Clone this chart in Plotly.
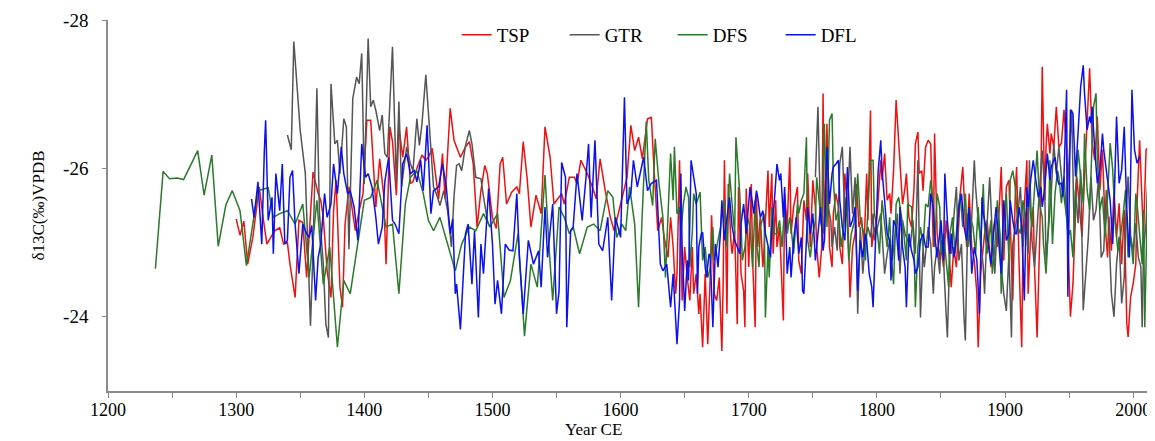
import plotly.graph_objects as go

# ---------------- data ----------------
tsp_years = [1300,1303,1306,1309,1313,1318,1321,1324,1330,1334,
    1337,1340,1342,1346,1349,1352,1355,1357,1360,1364,1366,1368,1371,1374,1376,1378,1381,1383,1385,1388,1390,1393,1396,1399,1402,1405,1409,1412,1415,1417,1420,1422,1425,1427,1430,1433,1436,
    1438,1441,1445,1448,1450,1453,1456,1458,1461,1463,1467,1470,1475,1479,1482,1485,1488,1491,1494,1496,1500,1503,1506,1508,1511,1515,1519,1521,1524,1527,1530,1534,1538,
    1541,1545,1548,1551,1554,1556,1560,1564,1566,1569,1574,1578,1581,1584,1588,1592,1595,1600,1605,1608,1611,1614,1617,1621,1624,1626,1629,1632,1634,1637,1639,
    1641,1643,1644,1646,1648,1650,1652,1654,1656,1657,1659,1661,1662,1664,1666,1668,1670,1671,1673,1675,1677,1679,1680,1681,1683,1684,1686,1687,1689,1691,1692,1694,1696,1697,1698,1700,1702,1703,1705,1706,1707,1709,1711,1712,1715,1716,1718,1719,1721,1722,1724,1727,1728,1730,1732,1733,1735,1738,1739,
    1741,1743,1745,1746,1748,1750,1752,1753,1755,1757,1758,1759,1761,1763,1765,1766,1768,1770,1771,1773,1775,1777,1779,1781,1783,1784,1786,1788,1790,1792,1793,1795,1796,1798,1799,1801,1803,1804,1806,1808,1810,1811,1813,1815,1817,1818,1820,1822,1823,1825,1827,1829,1830,1832,1833,1835,1836,1838,1840,
    1842,1844,1845,1847,1849,1850,1852,1854,1856,1858,1860,1862,1864,1865,1867,1869,1870,1872,1874,1876,1878,1879,1881,1883,1884,1886,1889,1890,1892,1894,1896,1897,1899,1901,1903,1904,1906,1908,1909,1911,1913,1914,1915,1917,1918,1920,1922,1923,1925,1927,1928,1929,1931,1932,1933,1935,1936,1938,1940,1942,
    1944,1946,1948,1949,1951,1953,1955,1956,1958,1960,1962,1964,1966,1968,1970,1972,1974,1976,1978,1980,1981,1983,1985,1987,1989,1991,1993,1995,1996,1998,2000,2002,2003,2005,2007,2008,2010,2012,2014]
tsp_values = [-25.32,-25.10,-25.29,-24.71,-25.07,-25.75,-25.34,-24.98,-25.16,-25.20,
    -24.98,-25.00,-24.71,-24.26,-25.30,-25.27,-24.53,-25.16,-25.95,-25.66,-25.57,-25.34,-24.62,-24.26,-25.43,-25.84,-24.40,-24.13,-25.25,-25.75,-25.52,-25.16,-25.43,-25.66,-26.65,-26.65,-25.48,-26.13,-25.66,-24.71,-26.56,-26.36,-25.64,-26.56,-26.15,-26.56,-25.80,
    -25.82,-26.00,-26.18,-26.11,-26.15,-26.27,-25.88,-25.59,-26.20,-25.59,-26.81,-26.38,-26.15,-26.29,-26.36,-26.06,-25.21,-25.70,-26.04,-25.93,-25.34,-25.19,-26.06,-26.15,-25.52,-25.68,-25.75,-25.66,-26.36,-25.88,-25.21,-25.64,-25.39,
    -26.56,-26.15,-25.52,-25.59,-25.66,-25.52,-25.88,-25.88,-25.79,-26.11,-25.93,-25.75,-25.59,-26.13,-25.70,-25.34,-25.16,-25.52,-25.88,-26.58,-26.24,-26.42,-26.13,-26.67,-26.69,-26.02,-25.16,-25.34,-25.07,-24.80,-25.34,
    -24.94,-24.31,-24.58,-26.11,-24.22,-24.94,-24.53,-24.22,-24.94,-24.31,-24.58,-24.04,-24.31,-23.59,-24.58,-23.63,-24.58,-25.37,-24.31,-24.22,-24.53,-23.54,-24.44,-26.11,-24.04,-25.79,-25.03,-24.85,-25.16,-23.90,-25.75,-24.58,-24.35,-23.86,-25.73,-24.67,-25.79,-24.76,-23.86,-25.66,-24.94,-25.34,-24.67,-24.94,-25.97,-25.21,-25.93,-24.85,-25.57,-24.94,-25.21,-23.95,-25.66,-25.21,-26.15,-25.12,-25.48,-25.75,-24.76,
    -24.58,-25.57,-25.30,-25.93,-24.94,-25.84,-25.48,-24.94,-24.53,-24.94,-27.01,-25.03,-26.60,-24.94,-24.67,-25.39,-25.66,-25.48,-24.94,-24.71,-25.93,-25.52,-24.26,-24.94,-25.12,-25.79,-25.21,-25.34,-24.94,-25.93,-25.30,-26.78,-24.94,-25.21,-25.12,-25.57,-26.11,-25.84,-26.20,-25.57,-25.66,-25.39,-25.97,-26.92,-26.33,-26.11,-25.52,-25.75,-25.93,-25.34,-25.21,-25.75,-26.33,-26.49,-25.93,-25.97,-25.70,-26.29,-26.38,
    -26.33,-24.94,-26.47,-25.12,-24.76,-24.94,-24.67,-25.30,-24.94,-24.40,-24.94,-24.67,-25.30,-25.66,-26.02,-25.30,-24.94,-25.66,-24.94,-24.76,-24.31,-23.59,-24.58,-24.94,-25.12,-25.30,-24.67,-25.03,-25.30,-24.94,-25.66,-26.02,-24.76,-25.75,-25.84,-25.21,-24.22,-25.66,-26.02,-24.67,-23.59,-25.03,-25.48,-26.11,-24.31,-25.12,-25.48,-24.67,-23.72,-25.03,-25.84,-27.37,-25.57,-26.29,-26.60,-26.20,-26.47,-26.29,-26.83,-26.29,
    -26.34,-26.79,-26.25,-25.08,-24.00,-24.45,-25.35,-25.89,-25.48,-25.08,-25.89,-26.61,-27.35,-26.34,-26.11,-26.70,-25.71,-26.25,-25.26,-24.80,-25.35,-24.89,-25.71,-25.08,-25.53,-24.71,-25.44,-23.91,-23.73,-24.27,-24.45,-24.71,-25.53,-26.38,-25.44,-25.08,-26.25,-26.29,-26.11]

gtr_years = [1340,1343,1345,1347,1350,1354,1357,1358,1360,1363,1365,1368,1370,1372,1374,1377,1379,1381,1384,1386,1388,1391,1394,1396,1398,1400,1403,1405,1407,1409,1412,1414,1416,1418,1422,1425,1427,1429,1433,1436,
    1438,1441,1443,1445,1448,1449,1452,1454,1457,1459,1462,1465,1468,1470,1472,1474,1476,1479,1482,1484,1487,1491,1493,1496,1498,
    None,
    1752,1754,1756,1758,1759,1761,1764,1765,1767,1769,1771,1773,1775,1777,1779,1781,1783,1785,1787,1789,1791,1793,1795,1797,1798,1800,1803,1804,1806,1808,1810,1812,1814,1816,1818,1820,1822,1824,1826,1828,1830,1832,1834,1836,1837,1840,
    1842,1844,1845,1847,1849,1850,1852,1854,1855,1857,1858,1860,1862,1864,1866,1868,1869,1871,1873,1876,1877,1879,1881,1883,1884,1886,1888,1890,1892,1893,1895,1897,1899,1901,1903,1905,1906,1908,1910,1912,1914,1916,1918,1919,1921,1923,1925,1927,1929,1931,1932,1934,1936,1938,1940,1942,
    1944,1946,1948,1949,1952,1954,1955,1957,1959,1961,1963,1965,1967,1969,1971,1973,1975,1977,1979,1981,1983,1985,1987,1989,1991,1993,1994,1996,1998,2000,2002,2004,2006,2007,2008,2010,2012,2014]
gtr_values = [-26.45,-26.25,-27.71,-27.19,-26.51,-25.93,-24.26,-23.88,-24.89,-27.08,-25.39,-24.71,-23.90,-23.72,-27.14,-26.33,-26.38,-25.93,-26.67,-26.56,-24.91,-26.94,-27.23,-27.14,-27.55,-25.79,-27.75,-26.83,-26.92,-26.78,-26.51,-26.72,-26.20,-26.15,-27.64,-25.80,-26.90,-25.75,-26.29,-26.06,
    -25.97,-26.67,-26.31,-26.60,-27.26,-26.99,-26.15,-25.75,-25.62,-25.50,-25.70,-25.43,-24.94,-25.62,-26.04,-26.06,-25.97,-26.31,-26.51,-26.33,-25.88,-25.86,-25.62,-25.30,-25.21,
    None,
    -25.88,-26.83,-25.30,-25.12,-25.34,-25.57,-25.30,-24.94,-25.21,-24.89,-26.06,-26.29,-25.30,-25.43,-26.29,-25.39,-25.88,-24.04,-25.21,-24.58,-25.03,-25.21,-25.07,-25.39,-25.03,-25.16,-25.39,-25.12,-24.58,-24.85,-25.03,-24.76,-25.12,-25.39,-24.58,-25.30,-25.12,-25.03,-24.94,-25.30,-24.85,-26.11,-23.99,-24.94,-24.67,-25.21,
    -24.98,-24.31,-24.67,-24.94,-24.58,-25.03,-24.76,-24.04,-23.72,-24.94,-24.85,-25.34,-25.75,-24.76,-24.98,-23.99,-23.68,-25.39,-24.94,-26.11,-25.75,-25.30,-25.03,-24.67,-24.31,-25.25,-25.88,-25.12,-24.58,-24.94,-25.30,-24.67,-24.31,-24.08,-24.85,-23.72,-24.98,-25.21,-25.39,-25.75,-24.94,-25.39,-24.85,-26.11,-25.03,-24.67,-25.30,-25.75,-26.24,-25.66,-24.76,-25.21,-25.66,-26.33,-25.93,-26.29,
    -25.89,-25.62,-25.35,-25.80,-26.79,-25.08,-25.71,-25.26,-25.98,-24.09,-24.54,-25.08,-25.89,-25.30,-25.44,-25.89,-24.80,-24.89,-25.71,-25.17,-24.31,-24.00,-24.71,-25.08,-24.18,-24.54,-25.26,-25.89,-25.08,-24.89,-25.26,-24.80,-24.67,-23.86,-24.89,-25.26,-26.11,-26.25]

dfs_years = [1237,1243,1248,1254,1259,1270,1275,1281,1286,1292,1297,1303,1308,1317,1325,1329,1334,
    1340,1346,1352,1357,1363,1368,1373,1379,1384,1389,1395,1400,1405,1410,1417,1422,1427,1432,1436,
    1441,1446,1450,1454,1459,1465,1471,1476,1482,1487,1493,1498,1504,1509,1514,1520,1525,1530,1535,
    1538,1541,1544,1547,1552,1556,1560,1563,1568,1574,1579,1584,1590,1594,1597,1601,1604,1607,1611,1614,1617,1620,1622,1625,1627,1630,1633,1635,1638,
    1639,1641,1642,1644,1646,1647,1649,1651,1653,1654,1656,1657,1659,1662,1664,1666,1668,1670,1672,1673,1676,1678,1679,1681,1683,1685,1687,1689,1690,1691,1693,1695,1697,1699,1701,1703,1705,1706,1708,1709,1712,1713,1715,1716,1718,1720,1722,1724,1726,1728,1730,1732,1733,1735,1738,1739,
    1741,1743,1745,1746,1748,1750,1752,1753,1755,1757,1759,1761,1763,1765,1766,1768,1770,1772,1774,1776,1778,1780,1782,1784,1785,1787,1790,1791,1793,1795,1797,1798,1800,1802,1804,1806,1808,1810,1811,1813,1815,1817,1819,1821,1823,1824,1827,1829,1830,1832,1834,1836,1838,1840,
    1842,1844,1845,1847,1849,1850,1852,1854,1856,1857,1859,1861,1863,1865,1867,1869,1871,1873,1875,1877,1879,1881,1883,1884,1886,1889,1890,1892,1894,1896,1897,1899,1901,1903,1904,1906,1908,1910,1912,1914,1916,1918,1919,1921,1923,1925,1927,1929,1930,1932,1934,1935,1937,1939,1941,1942,
    1944,1946,1948,1949,1951,1953,1955,1957,1959,1961,1962,1964,1966,1968,1969,1971,1972,1974,1976,1978,1980,1982,1984,1986,1988,1990,1992,1994,1996,1998,2000,2002,2003,2005,2007,2008,2009,2011,2012,2013,2014]
dfs_values = [-24.65,-25.96,-25.86,-25.87,-25.85,-26.24,-25.64,-26.18,-24.95,-25.51,-25.70,-25.43,-24.69,-25.70,-25.74,-25.34,-25.39,
    -25.43,-25.25,-25.52,-24.53,-25.57,-24.44,-24.94,-23.59,-24.49,-24.31,-24.98,-25.57,-25.61,-25.84,-25.21,-25.25,-24.31,-25.52,-25.88,
    -25.97,-25.66,-25.30,-25.16,-25.34,-24.98,-24.62,-24.98,-25.21,-25.16,-25.39,-25.21,-25.39,-24.26,-24.49,-25.12,-23.74,-24.71,-24.40,
    -25.16,-25.91,-24.98,-24.22,-25.48,-25.34,-25.12,-25.21,-24.85,-25.21,-25.25,-25.16,-25.70,-25.61,-25.07,-25.25,-25.16,-25.75,-25.25,-24.13,-25.43,-26.63,-25.84,-25.50,-26.40,-25.79,-25.34,-24.53,-25.79,
    -26.20,-25.57,-26.29,-25.39,-25.48,-25.12,-25.52,-25.75,-25.61,-24.67,-25.16,-25.66,-25.52,-25.68,-24.76,-24.94,-24.53,-24.67,-25.21,-24.76,-25.03,-25.21,-25.43,-25.57,-24.94,-25.93,-25.52,-25.12,-26.42,-26.11,-25.66,-24.76,-24.94,-25.34,-25.21,-24.67,-25.57,-25.03,-24.67,-25.21,-25.39,-23.99,-24.94,-24.53,-25.48,-25.12,-25.12,-25.30,-24.94,-25.52,-25.12,-25.34,-25.21,-24.85,-25.52,-25.39,
    -25.57,-25.66,-26.42,-25.03,-24.80,-25.12,-25.30,-25.88,-25.57,-25.21,-26.60,-25.21,-26.65,-26.74,-25.84,-25.30,-25.43,-24.94,-25.21,-25.61,-24.76,-25.12,-25.25,-25.57,-25.93,-25.30,-25.12,-24.76,-25.48,-26.11,-26.11,-25.39,-25.21,-24.85,-25.57,-25.21,-24.94,-25.34,-24.85,-24.44,-25.52,-25.61,-25.39,-25.12,-24.76,-25.52,-25.48,-24.94,-24.13,-24.94,-25.21,-24.94,-25.52,-25.48,
    -25.84,-25.52,-24.94,-25.66,-25.48,-24.85,-25.12,-24.76,-24.40,-25.12,-25.34,-24.85,-25.39,-25.66,-25.21,-25.66,-24.94,-25.34,-25.21,-24.85,-25.48,-24.94,-25.79,-25.21,-24.85,-25.30,-24.58,-24.94,-25.57,-25.12,-24.31,-25.30,-25.66,-24.76,-25.84,-25.97,-25.75,-25.21,-25.12,-25.57,-25.30,-25.66,-25.57,-25.21,-25.75,-26.24,-25.52,-25.34,-24.98,-24.58,-25.30,-26.11,-24.98,-25.66,-25.97,-25.88,
    -25.53,-25.89,-25.35,-25.08,-25.17,-24.80,-25.71,-26.25,-25.89,-25.53,-26.47,-25.71,-25.44,-26.25,-26.83,-27.01,-26.11,-25.44,-25.62,-25.08,-25.62,-26.34,-25.98,-25.26,-24.89,-25.08,-25.35,-25.71,-24.80,-25.08,-24.71,-25.66,-25.53,-25.12,-24.71,-25.44,-23.86,-25.53,-26.25,-26.72,-26.20]

dfl_years = [1312,1314,1317,1320,1322,1323,1325,1328,1329,1331,1334,
    1336,1338,1340,1342,1344,1346,1349,1352,1355,1357,1359,1362,1364,1366,1369,1371,1374,1376,1379,1382,1384,1387,1389,1392,1395,1398,1401,1403,1406,1409,1411,1414,1416,1419,1422,1424,1427,1430,1433,1436,
    1439,1441,1444,1446,1449,1452,1454,1458,1461,1464,1467,1469,1471,1472,1475,1479,1481,1484,1486,1489,1491,1493,1497,1500,1502,1504,1507,1510,1513,1516,1519,1521,1524,1528,1532,1536,
    1538,1541,1543,1547,1550,1552,1554,1557,1558,1561,1563,1566,1570,1573,1575,1577,1580,1583,1586,1590,1593,1596,1600,1603,1605,1608,1610,1613,1616,1618,1621,1624,1628,1631,1633,1636,1639,
    1641,1643,1644,1646,1647,1648,1650,1652,1653,1655,1657,1659,1660,1661,1663,1664,1666,1667,1669,1670,1672,1674,1676,1678,1679,1681,1683,1685,1687,1689,1691,1693,1694,1696,1698,1699,1701,1703,1704,1706,1707,1709,1711,1713,1715,1717,1718,1720,1722,1724,1725,1727,1728,1730,1732,1733,1735,1737,1739,
    1741,1742,1743,1745,1746,1748,1750,1752,1754,1756,1758,1759,1761,1763,1765,1766,1768,1770,1771,1773,1775,1777,1779,1781,1783,1785,1787,1789,1791,1792,1794,1796,1797,1799,1801,1803,1804,1806,1808,1810,1811,1813,1815,1817,1818,1820,1822,1823,1825,1827,1829,1830,1832,1834,1836,1838,1840,
    1842,1844,1845,1847,1849,1850,1852,1853,1855,1857,1858,1860,1862,1864,1866,1868,1870,1872,1874,1876,1878,1880,1882,1883,1885,1887,1889,1891,1893,1895,1897,1899,1901,1903,1904,1906,1908,1909,1911,1913,1915,1917,1918,1920,1922,1924,1926,1928,1929,1931,1933,1935,1936,1939,1941,1942,
    1944,1945,1946,1948,1949,1951,1953,1955,1957,1959,1961,1962,1964,1966,1967,1968,1970,1972,1974,1976,1977,1979,1980,1982,1984,1985,1987,1989,1991,1993,1995,1997,1999,2001,2003,2005]
dfl_values = [-25.59,-25.34,-25.82,-24.98,-26.24,-26.65,-25.30,-25.61,-24.85,-25.93,-25.43,
    -26.06,-24.98,-25.03,-25.88,-25.97,-25.25,-24.58,-25.25,-25.12,-25.07,-25.23,-24.22,-24.80,-24.98,-25.66,-25.34,-25.52,-26.06,-25.66,-26.29,-25.93,-25.66,-25.70,-25.48,-25.03,-26.33,-25.88,-25.93,-25.75,-25.34,-24.98,-25.21,-25.82,-26.15,-25.30,-25.25,-25.12,-26.06,-26.20,-25.93,
    -25.97,-25.82,-26.11,-25.70,-26.58,-25.39,-25.70,-25.75,-26.06,-25.75,-25.12,-25.32,-24.31,-24.44,-23.83,-25.12,-25.25,-24.44,-25.16,-23.99,-24.98,-24.58,-25.73,-24.98,-24.17,-24.49,-24.04,-24.98,-24.90,-24.89,-25.66,-24.80,-24.04,-25.03,-24.71,-24.89,
    -24.40,-25.48,-24.80,-25.52,-24.04,-24.35,-26.08,-25.88,-23.86,-25.16,-25.21,-25.93,-25.30,-25.88,-26.33,-25.34,-26.38,-24.98,-24.89,-25.34,-24.22,-25.34,-25.07,-26.96,-25.52,-25.66,-26.11,-25.75,-25.97,-26.15,-25.70,-25.80,-25.84,-24.71,-24.62,-24.71,-24.13,
    -24.58,-23.95,-23.63,-24.22,-25.93,-24.94,-24.08,-24.76,-24.49,-26.11,-25.88,-25.66,-24.31,-24.94,-25.12,-25.14,-24.67,-24.53,-24.85,-24.80,-23.86,-24.98,-24.67,-25.16,-25.57,-25.03,-25.34,-25.61,-25.21,-25.03,-24.94,-24.85,-25.25,-25.52,-25.12,-25.30,-25.75,-25.52,-25.39,-25.70,-25.61,-25.34,-25.43,-25.12,-24.98,-24.80,-25.21,-25.57,-26.06,-25.84,-25.93,-25.34,-25.75,-24.58,-24.94,-24.53,-25.03,-25.34,-24.85,
    -25.07,-24.35,-24.31,-25.03,-25.48,-25.12,-25.39,-24.76,-25.12,-25.48,-24.89,-25.03,-26.29,-25.52,-25.93,-26.02,-26.06,-26.11,-25.57,-25.21,-25.03,-26.02,-25.21,-25.30,-25.48,-24.35,-25.03,-24.80,-25.12,-25.03,-24.58,-24.40,-24.13,-25.12,-25.97,-26.38,-25.97,-25.57,-25.12,-25.03,-24.49,-25.30,-25.21,-24.76,-25.48,-24.94,-24.67,-24.13,-25.12,-24.89,-24.76,-24.58,-24.67,-25.03,-25.12,-24.94,-24.94,
    -25.66,-25.48,-25.12,-24.80,-25.12,-25.30,-24.76,-25.93,-25.30,-24.85,-25.12,-24.80,-25.03,-25.48,-25.66,-25.21,-25.03,-25.48,-24.58,-24.94,-24.76,-24.04,-25.61,-25.39,-25.21,-24.94,-24.71,-25.12,-25.48,-25.03,-24.58,-25.57,-25.03,-25.12,-25.57,-25.30,-25.12,-25.12,-25.48,-25.21,-24.22,-25.75,-25.48,-25.84,-26.11,-25.84,-25.61,-25.75,-25.48,-25.75,-26.20,-25.84,-26.02,-26.15,-25.84,-25.79,
    -25.80,-25.62,-25.89,-27.06,-24.27,-26.79,-26.74,-25.89,-26.47,-27.10,-27.39,-27.01,-26.52,-26.70,-26.61,-26.83,-26.25,-25.80,-25.98,-26.47,-26.25,-25.98,-25.80,-25.57,-24.98,-25.44,-26.70,-25.80,-25.98,-26.56,-25.44,-24.80,-27.06,-26.25,-26.07,-26.16]

series_names = ["TSP", "GTR", "DFS", "DFL"]
series_colors = ["#f01010", "#555555", "#2a7a2a", "#0a10f0"]
x_ticks = [1200, 1300, 1400, 1500, 1600, 1700, 1800, 1900, 2000]
y_ticks = [-28, -26, -24]

FONT = "Liberation Serif"
AXIS_COLOR = "#8a8a8a"

fig = go.Figure()
for name, xs, ys, col in zip(series_names,
                             [tsp_years, gtr_years, dfs_years, dfl_years],
                             [tsp_values, gtr_values, dfs_values, dfl_values],
                             series_colors):
    fig.add_trace(go.Scatter(x=xs, y=ys, name=name, mode="lines",
                             line=dict(color=col, width=1.5),
                             connectgaps=False))

# the page body adds an 8px offset; size and margins compensate for it
fig.update_layout(
    width=1147, height=433,
    margin=dict(l=100, r=0, t=12, b=50),
    paper_bgcolor="white", plot_bgcolor="white",
    font=dict(family=FONT, size=19, color="black"),
    showlegend=True,
    legend=dict(orientation="h", x=0.333, y=0.96, xanchor="left", yanchor="middle",
                font=dict(family=FONT, size=19, color="black"),
                entrywidth=63, entrywidthmode="pixels",
                bgcolor="rgba(0,0,0,0)", itemwidth=30, tracegroupgap=0),
    annotations=[dict(text="Year CE", xref="paper", yref="paper", x=0.464, y=-0.132,
                      xanchor="center", yanchor="bottom", showarrow=False, borderpad=0,
                      font=dict(family=FONT, size=17, color="black"))],
)

fig.update_xaxes(range=[1200, 2017], tickvals=x_ticks, ticktext=[str(t) for t in x_ticks],
                 automargin=False,
                 showline=True, linecolor=AXIS_COLOR, linewidth=1.5,
                 ticks="outside", ticklen=5, tickcolor=AXIS_COLOR, tickwidth=1.2,
                 ticklabelstandoff=-3,
                 minor=dict(dtick=50, tick0=1200, ticks="outside", ticklen=5,
                            tickcolor=AXIS_COLOR, tickwidth=1.2, showgrid=False),
                 showgrid=False, zeroline=False,
                 tickfont=dict(family=FONT, size=18, color="black"))
fig.update_yaxes(range=[-23, -28], tickvals=y_ticks, ticktext=[str(t) for t in y_ticks],
                 automargin=False,
                 showline=True, linecolor=AXIS_COLOR, linewidth=1.5,
                 ticks="outside", ticklen=4, tickcolor=AXIS_COLOR, tickwidth=1.2,
                 ticklabelstandoff=10,
                 showgrid=False, zeroline=False,
                 title=dict(text="δ13C(‰)VPDB", font=dict(family=FONT, size=17, color="black"),
                            standoff=14),
                 tickfont=dict(family=FONT, size=19, color="black"))

fig.write_html("out.html")
